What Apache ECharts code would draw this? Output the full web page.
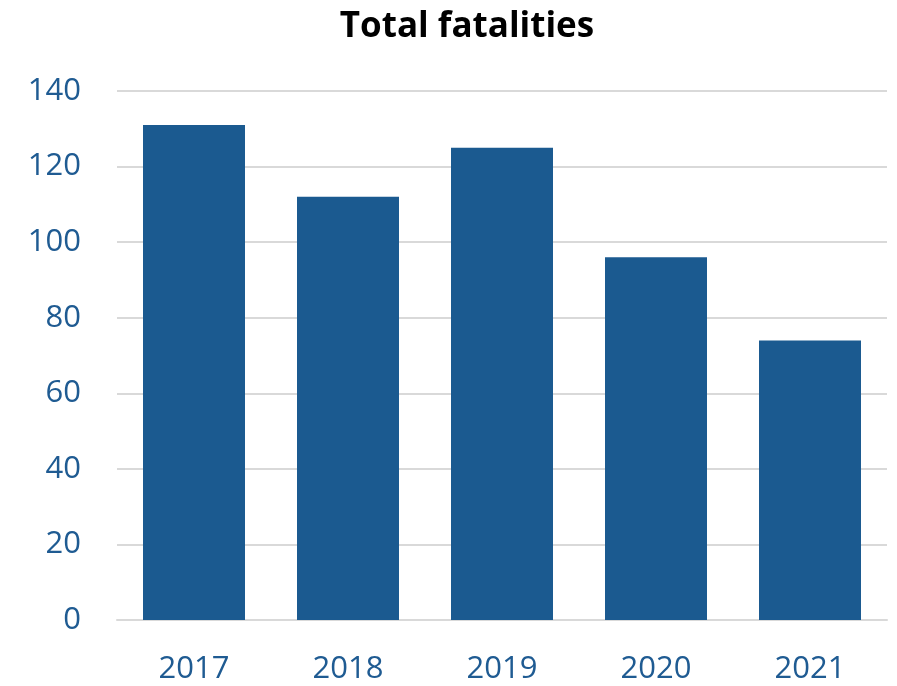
<!DOCTYPE html>
<html>
<head>
<meta charset="utf-8">
<style>
  html, body { margin: 0; padding: 0; background: #ffffff; }
  #chart { width: 897px; height: 686px; }
</style>
<script src="https://cdn.jsdelivr.net/npm/echarts@6/dist/echarts.min.js"></script>
</head>
<body>
<div id="chart"></div>
<script>
// Yearly totals
const years = ['2017', '2018', '2019', '2020', '2021'];
const fatalities = [131, 112, 125, 96, 74];
const yTicks = { min: 0, max: 140, interval: 20 };

const chart = echarts.init(document.getElementById('chart'), null, { renderer: 'canvas' });
chart.setOption({
  backgroundColor: '#ffffff',
  animation: false,
  title: {
    text: 'Total fatalities',
    left: 462,
    textAlign: 'center',
    top: 5,
    textStyle: { fontFamily: 'Open Sans', fontWeight: 'bold', fontSize: 35, color: '#000000' }
  },
  grid: { left: 117, right: 10, top: 91, bottom: 66, containLabel: false },
  xAxis: {
    type: 'category',
    data: years,
    axisLine: { lineStyle: { color: '#d9d9d9', width: 2 } },
    axisTick: { show: false },
    axisLabel: { margin: 34, color: '#1f5b92', fontFamily: 'Open Sans', fontSize: 31 }
  },
  yAxis: {
    type: 'value',
    min: yTicks.min,
    max: yTicks.max,
    interval: yTicks.interval,
    axisLine: { show: false },
    axisTick: { show: false },
    splitLine: { lineStyle: { color: '#d9d9d9', width: 2 } },
    axisLabel: { margin: 36, color: '#1f5b92', fontFamily: 'Open Sans', fontSize: 31 }
  },
  series: [{
    type: 'bar',
    data: fatalities,
    barWidth: 102,
    itemStyle: { color: '#1b5a90' }
  }]
});
</script>
</body>
</html>
